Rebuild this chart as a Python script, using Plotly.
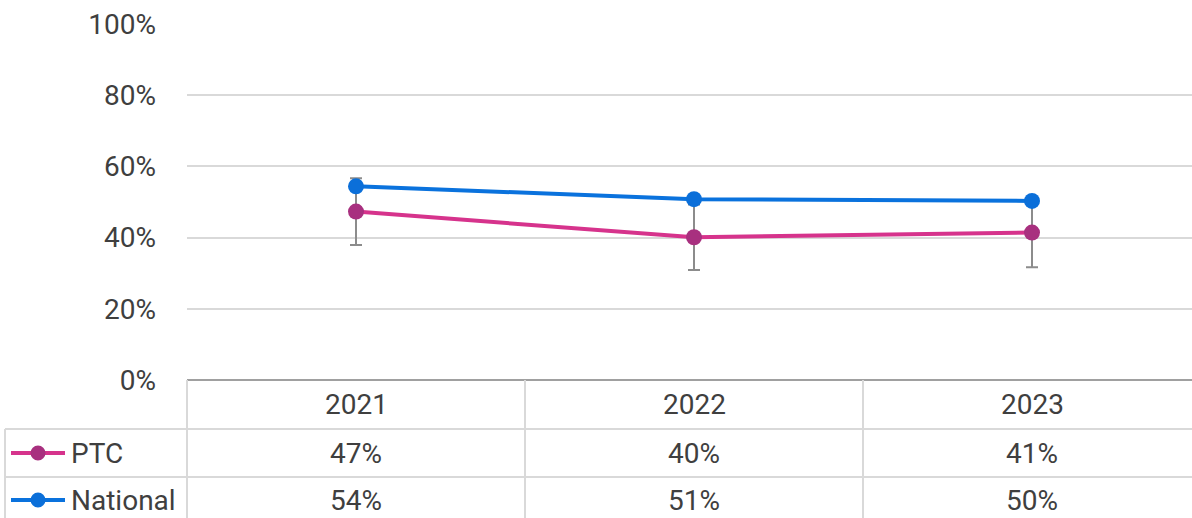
import plotly.graph_objects as go

# Data
years = ["2021", "2022", "2023"]
ptc = [0.473, 0.401, 0.414]
ptc_err = [0.094, 0.092, 0.097]
national = [0.544, 0.508, 0.503]
y_ticks = [0, 0.2, 0.4, 0.6, 0.8, 1.0]
y_tick_labels = ["0%", "20%", "40%", "60%", "80%", "100%"]

W, H = 1192, 518
FONT = "Roboto, 'Open Sans', sans-serif"
FS = 28
TEXT = "#3F3F3F"
PTC_LINE, PTC_MARK = "#D6338C", "#A8307F"
NAT_LINE, NAT_MARK = "#0A72DD", "#0B6FD9"
GRID = "#D9D9D9"


def px(x):
    return x / W


def py(y):
    return 1 - y / H


# plot area in pixels
PL, PT, PB = 187, 24, 380
COL_W = 338
x_pos = list(range(len(years)))

fig = go.Figure()

fig.add_trace(go.Scatter(
    x=x_pos, y=ptc, mode="lines+markers", name="PTC",
    line=dict(color=PTC_LINE, width=4),
    marker=dict(color=PTC_MARK, size=16),
    error_y=dict(type="data", array=ptc_err, visible=True,
                 color="#8C8C8C", thickness=2, width=6),
    showlegend=False,
))
fig.add_trace(go.Scatter(
    x=x_pos, y=national, mode="lines+markers", name="National",
    line=dict(color=NAT_LINE, width=4),
    marker=dict(color=NAT_MARK, size=16),
    showlegend=False,
))

x_end = -0.5 + (W - PL) / COL_W

fig.update_layout(
    width=W, height=H, autosize=False,
    margin=dict(l=0, r=0, t=0, b=0, pad=0, autoexpand=False),
    paper_bgcolor="white", plot_bgcolor="white",
    font=dict(family=FONT, size=FS, color=TEXT),
    xaxis=dict(domain=[px(PL), 1], range=[-0.5, x_end],
               showticklabels=False, showgrid=False, zeroline=False,
               showline=False, fixedrange=True, automargin=False),
    yaxis=dict(domain=[py(PB), py(PT)], range=[0, 1],
               tickvals=y_ticks, ticktext=y_tick_labels,
               showgrid=True, gridcolor=GRID, gridwidth=2,
               zeroline=False, showline=False, ticks="",
               ticklabelstandoff=30, automargin=False,
               tickfont=dict(family=FONT, size=FS, color=TEXT)),
)

shapes = []
annotations = []

# axis line along 0%
shapes.append(dict(type="line", xref="paper", yref="paper",
                   x0=px(PL), x1=1, y0=py(PB), y1=py(PB),
                   line=dict(color="#A0A0A0", width=2)))

# table grid
ROW1, ROW2 = 429, 477
TL = 5
shapes.append(dict(type="line", xref="paper", yref="paper",
                   x0=px(TL), x1=1, y0=py(ROW1), y1=py(ROW1),
                   line=dict(color=GRID, width=2)))
shapes.append(dict(type="line", xref="paper", yref="paper",
                   x0=px(TL), x1=1, y0=py(ROW2), y1=py(ROW2),
                   line=dict(color=GRID, width=2)))
shapes.append(dict(type="line", xref="paper", yref="paper",
                   x0=px(TL), x1=px(TL), y0=py(ROW1), y1=0,
                   line=dict(color=GRID, width=2)))
for i in range(len(years)):
    xb = PL + i * COL_W
    shapes.append(dict(type="line", xref="paper", yref="paper",
                       x0=px(xb), x1=px(xb), y0=py(PB), y1=0,
                       line=dict(color=GRID, width=2)))

# legend keys in the table
rows = [("PTC", ptc, PTC_LINE, PTC_MARK, 453),
        ("National", national, NAT_LINE, NAT_MARK, 500)]
for name, vals, lc, mc, yc in rows:
    shapes.append(dict(type="line", xref="paper", yref="paper",
                       x0=px(11), x1=px(65), y0=py(yc), y1=py(yc),
                       line=dict(color=lc, width=4)))
    shapes.append(dict(type="circle", xref="paper", yref="paper",
                       x0=px(38 - 7.5), x1=px(38 + 7.5),
                       y0=py(yc + 7.5), y1=py(yc - 7.5),
                       fillcolor=mc, line=dict(color=mc, width=0)))
    annotations.append(dict(xref="paper", yref="paper", x=px(69), y=py(yc),
                            text=name, showarrow=False, xanchor="left",
                            yanchor="middle",
                            font=dict(family=FONT, size=FS, color=TEXT)))
    for i, v in enumerate(vals):
        annotations.append(dict(xref="x", yref="paper", x=x_pos[i], y=py(yc),
                                text=f"{round(v * 100):.0f}%", showarrow=False,
                                xanchor="center", yanchor="middle",
                                font=dict(family=FONT, size=FS, color=TEXT)))

for i, yr in enumerate(years):
    annotations.append(dict(xref="x", yref="paper", x=x_pos[i], y=py(404),
                            text=yr, showarrow=False, xanchor="center",
                            yanchor="middle",
                            font=dict(family=FONT, size=FS, color=TEXT)))

fig.update_layout(shapes=shapes, annotations=annotations)

fig.write_html("out.html")
